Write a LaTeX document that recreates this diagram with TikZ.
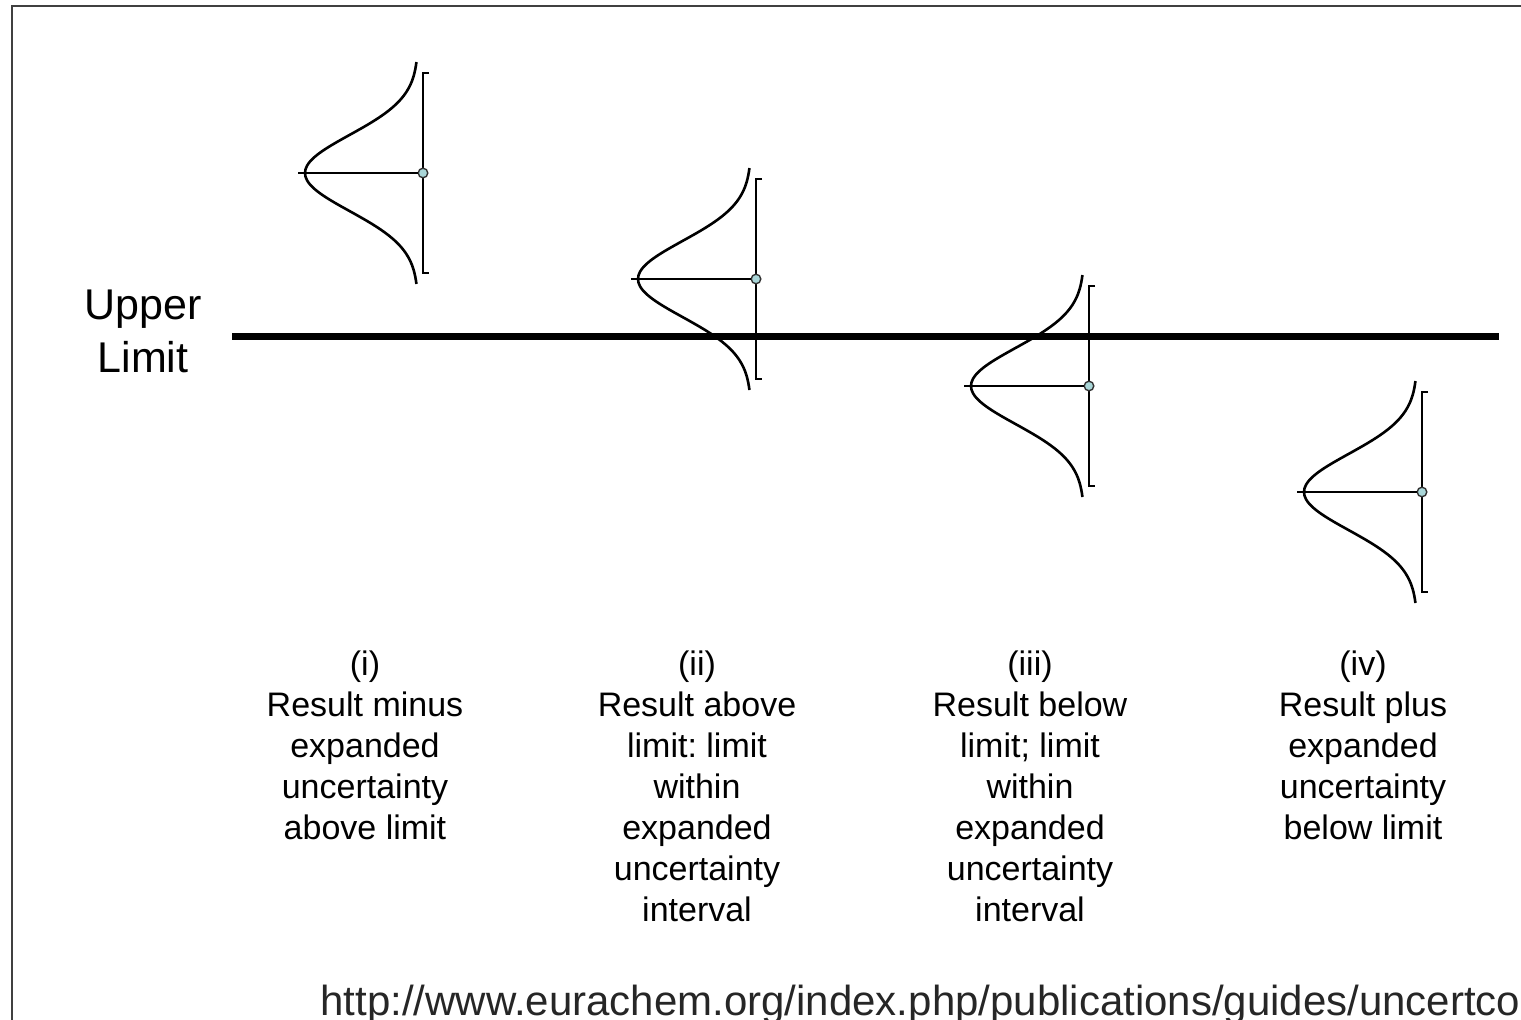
\documentclass[tikz,border=0pt]{standalone}
\usepackage{fontspec}
\setmainfont{Liberation Sans}
\usepackage{tikz}
\usetikzlibrary{positioning, calc}
\definecolor{frameGray}{HTML}{404040}
\definecolor{meanDot}{HTML}{A9D6D8}
\definecolor{urlGray}{HTML}{262626}
\frenchspacing

\begin{document}
\begin{tikzpicture}[
  x=0.5pt, y=-0.5pt,
  every node/.style={inner sep=0pt, text=black},
  caption/.style={
    font=\fontsize{17}{20.5}\selectfont,
    align=center, anchor=north
  },
  limitlabel/.style={
    font=\fontsize{21.5}{26.5}\selectfont,
    align=center
  },
  bell/.style={line width=1.3pt, line join=round},
  interval/.style={line width=0.9pt},
  mean/.style={
    circle, minimum size=4.8pt,
    draw=black!80, line width=0.7pt, fill=meanDot
  },
]
\useasboundingbox (0,0) rectangle (1521,1019);
\clip (0,0) rectangle (1521,1019);

% Frame (runs off the page at right and bottom)
\draw[frameGray, line width=1.3pt] (12,6) rectangle (1560,1060);

% Result distributions with their expanded uncertainty intervals
\foreach \k/\cx/\cy in {1/423/173, 2/756/279, 3/1089/386, 4/1422/492} {
  \coordinate (hi\k) at (\cx,\cy-100);
  \coordinate (lo\k) at (\cx,\cy+100);
  \coordinate (peak\k) at (\cx-125,\cy);
  \draw[bell] plot[domain=-111:111, samples=61, smooth]
    ({\cx-5-113*exp(-(\x*\x)/2888)}, {\cy+\x});
  \draw[interval] ($(hi\k)+(6,0)$) -- (hi\k) -- (lo\k) -- ($(lo\k)+(6,0)$);
  \node[mean] (mean\k) at (\cx,\cy) {};
  \draw[interval] (peak\k) -- (mean\k.west);
}

% Upper limit
\coordinate (limL) at (232,336);
\coordinate (limR) at (1499,336);
\draw[line width=3.5pt] (limL) -- (limR);
\node[limitlabel] (ul) at (143,331) {Upper\\Limit};

% Captions
\node[caption] (cap1) at (365,650) {(i)\\Result minus\\expanded\\uncertainty\\above limit};
\node[caption] (cap2) at (697,650) {(ii)\\Result above\\limit: limit\\within\\expanded\\uncertainty\\interval};
\node[caption] (cap3) at (1030,650) {(iii)\\Result below\\limit; limit\\within\\expanded\\uncertainty\\interval};
\node[caption] (cap4) at (1363,650) {(iv)\\Result plus\\expanded\\uncertainty\\below limit};

% Source
\node[anchor=base west, font=\fontsize{21}{25}\selectfont, text=urlGray] (url)
  at (320,1015) {http://www.eurachem.org/index.php/publications/guides/uncertco};

\end{tikzpicture}
\end{document}
